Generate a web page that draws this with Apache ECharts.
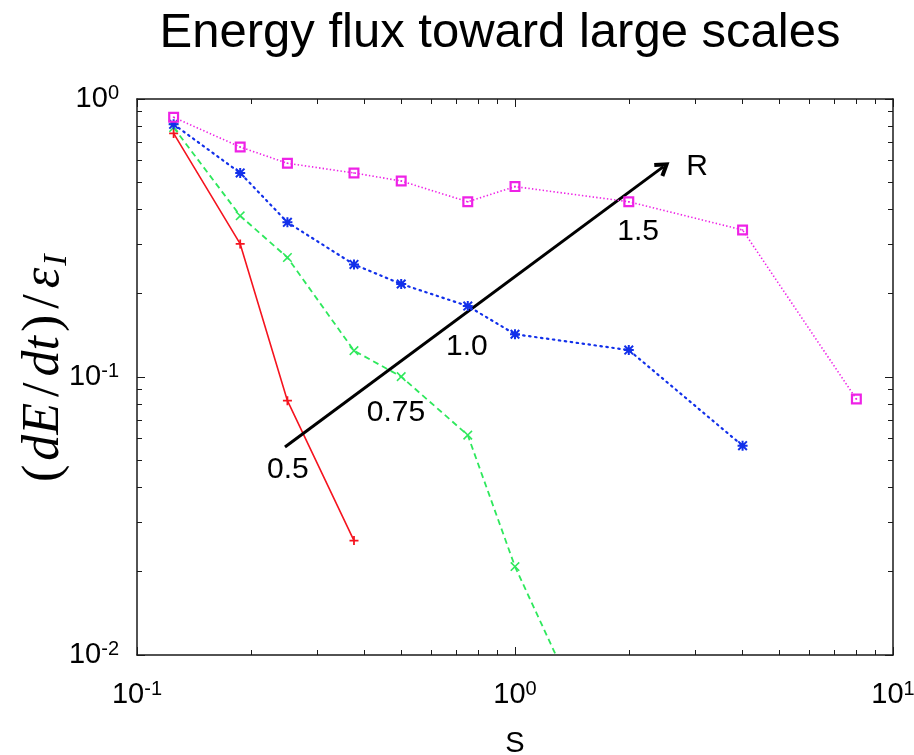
<!DOCTYPE html>
<html>
<head>
<meta charset="utf-8">
<script src="https://cdn.jsdelivr.net/npm/echarts@6/dist/echarts.min.js"></script>
<style>html,body{margin:0;padding:0;background:#fff;}#c{width:914px;height:755px;}</style>
</head>
<body>
<div id="c"></div>
<script>
const chartTitle = 'Energy flux toward large scales';
const xName = 'S';
const sValues = [0.125, 0.1875, 0.25, 0.375, 0.5, 0.75, 1, 2, 4, 8];
const fluxR05 = [0.752, 0.301, 0.0822, 0.0258];
const fluxR075 = [0.79, 0.380, 0.269, 0.1244, 0.1003, 0.0618, 0.0208, 0.0027];
const fluxR10 = [0.811, 0.542, 0.360, 0.254, 0.216, 0.180, 0.1425, 0.125, 0.0566];
const fluxR15 = [0.859, 0.672, 0.587, 0.542, 0.507, 0.427, 0.484, 0.427, 0.338, 0.0833];
const xMajorTicks = [0.1, 1, 10];
const yMajorTicks = [0.01, 0.1, 1];
const xMinorTicks = [0.2, 0.3, 0.4, 0.5, 0.6, 0.7, 0.8, 0.9, 2, 3, 4, 5, 6, 7, 8, 9];
const yMinorTicks = [0.02, 0.03, 0.04, 0.05, 0.06, 0.07, 0.08, 0.09, 0.2, 0.3, 0.4, 0.5, 0.6, 0.7, 0.8, 0.9];
const arrowStart = [0.2463, 0.056];
const arrowEnd = [2.47, 0.571];
const annotations = [
  [3.03, 0.569, 'R'],
  [2.116, 0.3323, '1.5'],
  [0.746, 0.128, '1.0'],
  [0.4844, 0.0742, '0.75'],
  [0.2508, 0.0463, '0.5']
];

const chart = echarts.init(document.getElementById('c'), null, {renderer: 'canvas'});
const axisColor = '#1a1a1a';
const sans = 'Liberation Sans';

function pairs(vals) { return vals.map((v, i) => [sValues[i], v]); }
function powLabel(v) {
  const e = Math.round(Math.log10(v));
  return '{b|10}{s|' + e + '}';
}
const labelRich = {
  b: {fontSize: 29, fontFamily: sans, color: '#000', lineHeight: 32},
  s: {fontSize: 20, fontFamily: sans, color: '#000', verticalAlign: 'top', lineHeight: 32, padding: [0, 0, 12, 0]}
};

function mkX(pos, vals, len, label, line) {
  return {
    type: 'log', logBase: 10, min: 0.1, max: 10, position: pos, gridIndex: 0,
    axisLine: {show: line, onZero: false, lineStyle: {color: axisColor, width: 1.5}},
    axisTick: {show: true, inside: true, length: len, customValues: vals, lineStyle: {color: axisColor, width: 1}},
    axisLabel: label ? {show: true, margin: 24, fontSize: 29, fontFamily: sans, color: '#000', formatter: powLabel, rich: labelRich} : {show: false},
    splitLine: {show: false}, minorTick: {show: false}
  };
}
function mkY(pos, vals, len, label, line) {
  return {
    type: 'log', logBase: 10, min: 0.01, max: 1, position: pos, gridIndex: 0,
    axisLine: {show: line, onZero: false, lineStyle: {color: axisColor, width: 1.5}},
    axisTick: {show: true, inside: true, length: len, customValues: vals, lineStyle: {color: axisColor, width: 1}},
    axisLabel: label ? {show: true, margin: 18, fontSize: 29, fontFamily: sans, color: '#000', formatter: powLabel, rich: labelRich} : {show: false},
    splitLine: {show: false}, minorTick: {show: false}
  };
}

const plusPath = 'path://M4,0H6V4H10V6H6V10H4V6H0V4H4Z';
const thinPlusPath = 'path://M4.35,0H5.65V4.35H10V5.65H5.65V10H4.35V5.65H0V4.35H4.35Z';
const starPath = 'path://M4,0H6V4H10V6H6V10H4V6H0V4H4Z M0,1.4L1.4,0L10,8.6L8.6,10Z M8.6,0L10,1.4L1.4,10L0,8.6Z';
const boxPath = 'path://M0,0H10V10H0Z M2,2V8H8V2Z M4.3,4.3H5.7V5.7H4.3Z';
const chevronPath = 'path://M5,0L10,7.5L8,8.8L5,4.2L2,8.8L0,7.5Z';

const serif = 'Liberation Serif';
const option = {
  animation: false,
  backgroundColor: '#fff',
  grid: {left: 137, right: 21, top: 99, bottom: 100, containLabel: false, outerBoundsMode: 'none'},
  xAxis: [
    Object.assign(mkX('bottom', xMajorTicks, 8, true, true), {
      name: xName, nameLocation: 'middle', nameGap: 74,
      nameTextStyle: {fontSize: 29, fontFamily: sans, color: '#000'}
    }),
    mkX('bottom', xMinorTicks, 5, false, false),
    mkX('top', xMajorTicks, 8, false, true),
    mkX('top', xMinorTicks, 5, false, false)
  ],
  yAxis: [
    mkY('left', yMajorTicks, 8, true, true),
    mkY('left', yMinorTicks, 5, false, false),
    mkY('right', yMajorTicks, 8, false, true),
    mkY('right', yMinorTicks, 5, false, false)
  ],
  graphic: [
    {type: 'text', x: 500, y: 33, style: {text: chartTitle, font: '49px "Liberation Sans"', fill: '#000', align: 'center', verticalAlign: 'middle'}},
    {type: 'text', x: 44, y: 484, rotation: Math.PI / 2, style: {
      text: '{u|(}{i|dE}{sl|/}{i|dt}{u|)}{sl|/}{i|ε}{sub|I}',
      align: 'left', verticalAlign: 'middle', fill: '#000',
      fontFamily: serif, fontSize: 52, fontStyle: 'italic',
      rich: {
        u: {fontFamily: serif, fontSize: 52, fontStyle: 'normal', lineHeight: 60, fill: '#000', padding: [0, 2, 0, 2]},
        sl: {fontFamily: serif, fontSize: 52, fontStyle: 'normal', lineHeight: 60, fill: '#000', padding: [0, 4, 0, 4]},
        i: {fontFamily: serif, fontSize: 52, fontStyle: 'italic', lineHeight: 60, fill: '#000', padding: [0, 2, 0, 2]},
        sub: {fontFamily: serif, fontSize: 34, fontStyle: 'italic', lineHeight: 60, verticalAlign: 'bottom', fill: '#000', padding: [16, 0, 0, 0]}
      }
    }}
  ],
  series: [
    {
      name: 'R=0.5', type: 'line', xAxisIndex: 0, yAxisIndex: 0, data: pairs(fluxR05), clip: true,
      lineStyle: {color: '#f5141f', width: 1.6, type: 'solid'},
      symbol: plusPath, symbolSize: 9, showSymbol: true,
      itemStyle: {color: '#f5141f'}, z: 3
    },
    {
      name: 'R=0.75', type: 'line', xAxisIndex: 0, yAxisIndex: 0, data: pairs(fluxR075), clip: true,
      lineStyle: {color: '#2ee85c', width: 1.8, type: [6, 4]},
      symbol: thinPlusPath, symbolRotate: 45, symbolSize: 12, showSymbol: true,
      itemStyle: {color: '#2ee85c'}, z: 4
    },
    {
      name: 'R=1.0', type: 'line', xAxisIndex: 0, yAxisIndex: 0, data: pairs(fluxR10), clip: true,
      lineStyle: {color: '#1230ea', width: 2.2, type: [1.5, 4.5], cap: 'round'},
      symbol: starPath, symbolSize: 10, showSymbol: true,
      itemStyle: {color: '#1230ea'}, z: 5
    },
    {
      name: 'R=1.5', type: 'line', xAxisIndex: 0, yAxisIndex: 0, data: pairs(fluxR15), clip: true,
      lineStyle: {color: '#ee22e6', width: 1.6, type: [1.4, 2.2]},
      symbol: boxPath, symbolSize: 11, showSymbol: true,
      itemStyle: {color: '#ee22e6'}, z: 6
    },
    {
      name: 'annotations', type: 'scatter', xAxisIndex: 0, yAxisIndex: 0,
      data: annotations, symbolSize: 0, silent: true, z: 7,
      itemStyle: {opacity: 1, color: '#000'},
      label: {show: true, position: 'inside', formatter: p => p.value[2], fontSize: 30, fontFamily: sans, color: '#000', opacity: 1, textBorderWidth: 0},
      markLine: {
        silent: true, animation: false,
        symbol: ['none', chevronPath], symbolSize: [17, 15],
        lineStyle: {color: '#000', width: 3, type: 'solid', opacity: 1},
        label: {show: false},
        emphasis: {disabled: true},
        data: [[{coord: arrowStart}, {coord: arrowEnd}]]
      }
    }
  ]
};
chart.setOption(option);
</script>
</body>
</html>
